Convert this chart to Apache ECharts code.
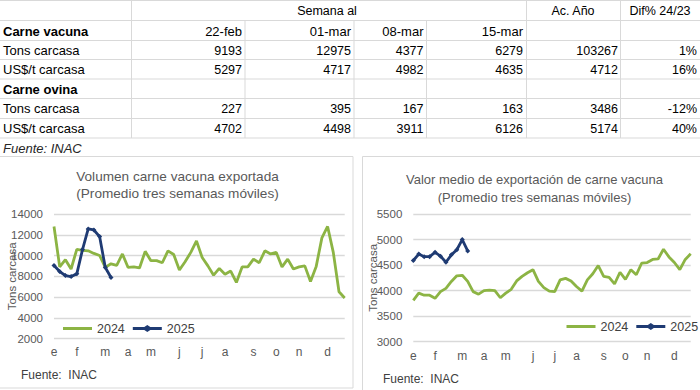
<!DOCTYPE html>
<html><head><meta charset="utf-8">
<script src="https://cdn.jsdelivr.net/npm/echarts@6/dist/echarts.min.js"></script>
<style>html,body{margin:0;padding:0;background:#fff}#c{width:700px;height:390px}</style>
</head><body><div id="c"></div>
<script>
// ---- Table data ----
const tableTopHeaders = ['Semana al', 'Ac. Año', 'Dif% 24/23'];
const weekDates = ['22-feb', '01-mar', '08-mar', '15-mar'];
const sectionVacuna = 'Carne vacuna';
const sectionOvina = 'Carne ovina';
const rowTons = 'Tons carcasa';
const rowPrice = 'US$/t carcasa';
const vacunaTons = ['9193', '12975', '4377', '6279', '103267', '1%'];
const vacunaPrice = ['5297', '4717', '4982', '4635', '4712', '16%'];
const ovinaTons = ['227', '395', '167', '163', '3486', '-12%'];
const ovinaPrice = ['4702', '4498', '3911', '6126', '5174', '40%'];
const sourceNote = 'Fuente: INAC';

// ---- Chart data ----
const monthLetters = ['e','f','m','a','m','j','j','a','s','o','n','d'];
const monthStartWeek = [0,4,9,13,17,22,26,30,35,39,43,48];
const volTitle = ['Volumen carne vacuna exportada', '(Promedio tres semanas móviles)'];
const priceTitle = ['Valor medio de exportación de carne vacuna', '(Promedio tres semanas móviles)'];
const yAxisName = 'Tons carcasa';
const chartSource = 'Fuente:  INAC';
const seriesNames = ['2024', '2025'];

const vol2024 = [12800, 8900, 9600, 8700, 10600, 10500, 10450, 10200, 10000, 8850,
  9200, 9050, 10150, 8850, 8900, 8800, 10400, 9500, 9500, 9300,
  10450, 10100, 8600, 9400, 10300, 11400, 9800, 9000, 8100, 8750,
  8200, 8500, 7400, 8900, 8900, 9650, 9300, 10450, 10150, 10300,
  8900, 9650, 8700, 8900, 9000, 7500, 8950, 11700, 12800, 10300,
  6500, 5900];
const vol2025 = [9030, 8450, 8070, 7970, 8230, 10570, 12560, 12460, 11820, 8848, 7877];

const price2024 = [3810, 3950, 3910, 3910, 3850, 3980, 4045, 4180, 4290, 4300,
  4180, 3980, 3930, 4000, 4010, 4000, 3860, 3950, 4025, 4190,
  4280, 4350, 4410, 4180, 4060, 3990, 3980, 4210, 4240, 4190,
  4080, 3990, 4210, 4330, 4490, 4280, 4260, 4130, 4360, 4220,
  4410, 4310, 4540, 4550, 4610, 4620, 4810, 4660, 4550, 4410,
  4610, 4720];
const price2025 = [4590, 4715, 4665, 4665, 4750, 4675, 4555, 4700, 4800, 4999, 4778];

const weekLabels = Array.from({length: 52}, (_, i) => {
  const k = monthStartWeek.indexOf(i);
  return k >= 0 ? monthLetters[k] : '';
});

// ---- Styles ----
const GREEN = '#8CB444';
const BLUE = '#1F3B73';
const GRID = '#D9D9D9';
const AXIS_TXT = '#595959';
const FONT = '"Liberation Sans", Arial, sans-serif';

const graphics = [];
function txt(x, y, text, opt) {
  opt = opt || {};
  graphics.push({
    type: 'text', x: x, y: y, silent: true,
    style: {
      text: text,
      fill: opt.fill || '#000',
      font: (opt.style || '') + ' ' + (opt.weight || 'normal') + ' ' + (opt.size || 13) + 'px ' + FONT,
      align: opt.align || 'left',
      verticalAlign: 'middle'
    }
  });
}
function line(x1, y1, x2, y2, color) {
  graphics.push({
    type: 'line', silent: true,
    shape: {x1: x1, y1: y1, x2: x2, y2: y2},
    style: {stroke: color || GRID, lineWidth: 1}
  });
}

// ---- Table layout ----
const rowY = [11, 31.5, 50.5, 69.5, 89, 108.5, 128.5];
const rowLines = [0.5, 20.5, 40.5, 59.5, 79, 98.5, 118.5, 138];
const colRight = [242, 351, 423.5, 523, 618, 697];

rowLines.forEach(y => line(0, y, 700, y));
line(131.5, 0, 131.5, 138);
line(526.5, 0, 526.5, 138);
line(620.5, 0, 620.5, 138);
[245, 354, 426.5].forEach(x => line(x, 20.5, x, 138));

txt(327, rowY[0], tableTopHeaders[0], {size: 12.5, align: 'center'});
txt(573, rowY[0], tableTopHeaders[1], {size: 12.5, align: 'center'});
txt(660, rowY[0], tableTopHeaders[2], {size: 12.5, align: 'center'});
txt(3, rowY[1], sectionVacuna, {size: 13, weight: 'bold'});
weekDates.forEach((d, i) => txt(colRight[i], rowY[1], d, {size: 13, align: 'right'}));
const bodyRows = [[rowTons, vacunaTons, 2], [rowPrice, vacunaPrice, 3], [rowTons, ovinaTons, 5], [rowPrice, ovinaPrice, 6]];
bodyRows.forEach(r => {
  txt(3, rowY[r[2]], r[0], {size: 13});
  r[1].forEach((v, i) => txt(colRight[i], rowY[r[2]], v, {size: 12.5, align: 'right'}));
});
txt(3, rowY[4], sectionOvina, {size: 13, weight: 'bold'});
txt(3, 148, sourceNote, {size: 13, style: 'italic', fill: '#262626'});

// ---- Chart frames ----
line(0, 156.5, 353, 156.5);
line(353, 156.5, 353, 388);
line(0, 388, 353, 388);
line(362.5, 156.5, 700, 156.5);
line(362.5, 156.5, 362.5, 390);

// ---- Chart titles and sources ----
txt(177.5, 176, volTitle[0], {size: 13.6, fill: AXIS_TXT, align: 'center'});
txt(177.5, 193.5, volTitle[1], {size: 13.6, fill: AXIS_TXT, align: 'center'});
txt(534.5, 179.5, priceTitle[0], {size: 13, fill: AXIS_TXT, align: 'center'});
txt(534.5, 197.5, priceTitle[1], {size: 13, fill: AXIS_TXT, align: 'center'});
txt(21, 375, chartSource, {size: 12, fill: '#404040'});
txt(383, 378.5, chartSource, {size: 12, fill: '#404040'});

function xAx(gi, margin) {
  return {
    type: 'category', gridIndex: gi, data: weekLabels, boundaryGap: false,
    axisLine: {show: false}, axisTick: {show: false},
    axisLabel: {interval: 0, color: AXIS_TXT, fontSize: 12, fontFamily: FONT, margin: margin},
    splitLine: {show: false}
  };
}
function yAx(gi, min, max, step, gap) {
  return {
    type: 'value', gridIndex: gi, min: min, max: max, interval: step,
    name: yAxisName, nameLocation: 'middle', nameRotate: 90, nameGap: gap,
    nameMoveOverlap: false,
    nameTextStyle: {color: AXIS_TXT, fontSize: 11.5, fontFamily: FONT},
    axisLine: {show: false}, axisTick: {show: false},
    axisLabel: {color: AXIS_TXT, fontSize: 11.5, fontFamily: FONT, margin: 11,
      formatter: v => String(v)},
    splitLine: {lineStyle: {color: GRID, width: 1.3}}
  };
}
function s2024(gi, data) {
  return {type: 'line', name: seriesNames[0], xAxisIndex: gi, yAxisIndex: gi, data: data,
    symbol: 'none', lineStyle: {color: GREEN, width: 2.8}, itemStyle: {color: GREEN}, z: 2};
}
function s2025(gi, data) {
  return {type: 'line', name: seriesNames[1], xAxisIndex: gi, yAxisIndex: gi, data: data,
    symbol: 'diamond', symbolSize: 5, showSymbol: true,
    lineStyle: {color: BLUE, width: 2.8}, itemStyle: {color: BLUE}, z: 3};
}
// legend icons: plain line for 2024, line with diamond marker for 2025
const ICON_LINE = 'path://M0,0L0.05,0L0,0.05Z M0,2.6L29,2.6L29,5.4L0,5.4Z M29,8L28.95,8L29,7.95Z';
const ICON_LINE_DIAMOND = 'path://M0,0L0.05,0L0,0.05Z M0,2.6L11.5,2.6L14.5,0.5L17.5,2.6L29,2.6L29,5.4L17.5,5.4L14.5,7.5L11.5,5.4L0,5.4Z M29,8L28.95,8L29,7.95Z';
function lg(left, top) {
  return {
    data: [{name: seriesNames[0], icon: ICON_LINE}, {name: seriesNames[1], icon: ICON_LINE_DIAMOND}],
    left: left, top: top, padding: 0, width: 200, itemWidth: 29, itemHeight: 8, itemGap: 8,
    textStyle: {color: '#404040', fontSize: 12.5, fontFamily: FONT}, selectedMode: false
  };
}

const chart = echarts.init(document.getElementById('c'), null, {renderer: 'svg'});
chart.setOption({
  animation: false,
  backgroundColor: '#fff',
  grid: [
    {left: 54, right: 355.3, top: 214, bottom: 51.5},
    {left: 413.3, right: 9.3, top: 214, bottom: 48.3}
  ],
  xAxis: [xAx(0, 7), xAx(1, 8.5)],
  yAxis: [yAx(0, 2000, 14000, 2000, 36), yAx(1, 3000, 5500, 500, 34)],
  legend: [lg(63, 322), lg(566.5, 320)],
  series: [s2024(0, vol2024), s2025(0, vol2025), s2024(1, price2024), s2025(1, price2025)],
  graphic: graphics
});
</script>
</body></html>
